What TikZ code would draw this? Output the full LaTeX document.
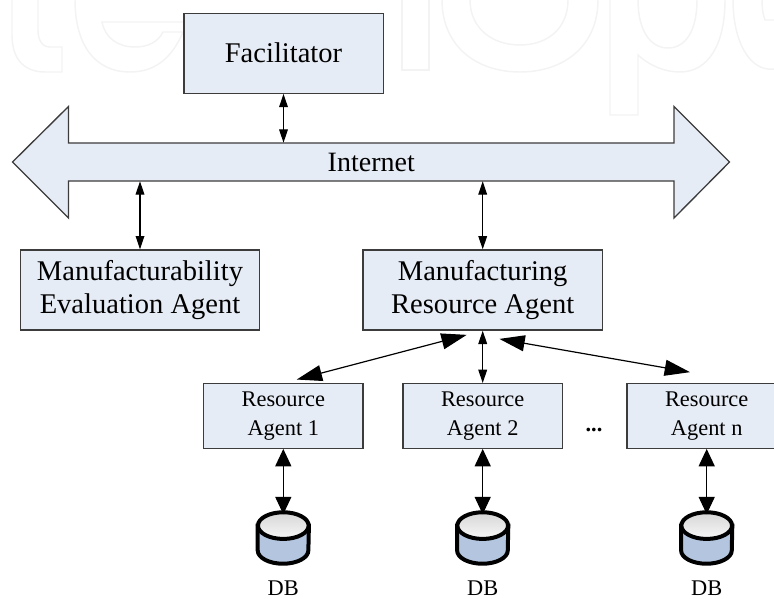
\documentclass[tikz,border=0pt]{standalone}
\usepackage{fontspec}
\setmainfont{Liberation Serif}
\usepackage{tikz}
\usetikzlibrary{arrows.meta}
\definecolor{boxfill}{HTML}{E6ECF5}
\definecolor{boxline}{HTML}{3C3C3C}
\definecolor{markline}{HTML}{F3F3F3}
\definecolor{dbside}{HTML}{B4C6DF}
\tikzset{
  agentbox/.style={draw=boxline,fill=boxfill,line width=1pt,inner sep=0pt,align=center},
  bigbox/.style={agentbox,minimum width=179.5pt,minimum height=60pt,font=\fontsize{21.4}{25}\selectfont},
  smallbox/.style={agentbox,minimum width=119.5pt,minimum height=48.4pt,font=\fontsize{16.8}{21.5}\selectfont},
  thinlink/.style={{Triangle[length=10pt,width=6.5pt]}-{Triangle[length=10pt,width=6.5pt]},line width=0.9pt},
  fatlink/.style={{Triangle[length=13pt,width=12pt]}-{Triangle[length=13pt,width=12pt]},line width=0.9pt},
  slantlink/.style={{Triangle[length=19pt,width=12pt]}-{Triangle[length=19pt,width=12pt]},line width=0.9pt},
  dbspot/.style={inner sep=0pt,minimum width=38pt,minimum height=38.2pt},
  dbwall/.style={line width=3pt,left color=dbside,middle color=boxfill,right color=dbside},
  dbtop/.style={line width=3pt,top color=white!84!black,bottom color=white!97!black},
  dblabel/.style={font=\fontsize{16.8}{20}\selectfont},
  markstroke/.style={draw=markline,line width=1.1pt}
}
\begin{document}
\begin{tikzpicture}[x=0.75pt,y=-0.75pt]
  \useasboundingbox (0,0) rectangle (774,599);

  % faint lettering behind the diagram
  \draw [markstroke] (12,0) -- (12,35) .. controls (12,60) and (25,72) .. (45,72) -- (62,72) -- (62,47) -- (50,47) .. controls (42,47) and (38,40) .. (38,30) -- (38,0);
  \draw [markstroke] (75,0) .. controls (75,45) and (95,72) .. (130,72) .. controls (155,72) and (172,58) .. (183,32) -- (163,32) .. controls (158,42) and (148,47) .. (135,47) .. controls (118,47) and (105,38) .. (102,22) -- (190,22);
  \draw [markstroke] (402,0) -- (402,70) -- (429,70) -- (429,0);
  \draw [markstroke] (442,0) .. controls (442,45) and (475,72) .. (520,72) .. controls (565,72) and (598,45) .. (598,0);
  \draw [markstroke] (470,0) .. controls (470,28) and (492,45) .. (520,45) .. controls (548,45) and (568,28) .. (568,0);
  \draw [markstroke] (610,0) -- (610,115) -- (638,115) -- (638,55) .. controls (650,66) and (665,72) .. (680,72) .. controls (708,72) and (725,45) .. (725,0);
  \draw [markstroke] (638,0) .. controls (638,30) and (650,48) .. (668,48) .. controls (686,48) and (697,30) .. (697,0);
  \draw [markstroke] (733,0) .. controls (733,42) and (750,72) .. (774,69);
  \draw [markstroke] (762,0) .. controls (762,8) and (763,15) .. (765,20) -- (774,20);

  % backbone
  \draw [agentbox] (12.5,162) -- (68.5,106.5) -- (68.5,143) -- (674,143) -- (674,106.5) -- (729.5,162) -- (674,218) -- (674,181) -- (68.5,181) -- (68.5,218) -- cycle;
  \node (inet) [inner sep=0pt,minimum width=454pt,minimum height=28.5pt,font=\fontsize{21}{25}\selectfont] at (371.25,162) {Internet};

  % upper boxes
  \node (fac) [bigbox,minimum width=149.5pt] at (283.5,53.2) {Facilitator};
  \node (mea) [bigbox] at (140,290) {Manufacturability\\Evaluation Agent};
  \node (mra) [bigbox] at (482.7,290) {Manufacturing\\Resource Agent};

  \draw [thinlink] (fac.south) -- (fac.south |- inet.north);
  \draw [thinlink] (mea.north) -- (mea.north |- inet.south);
  \draw [thinlink] (mra.north) -- (mra.north |- inet.south);

  % resource agents with their databases
  \foreach \num / \x / \label in {1/283.3/Agent 1, 2/482.7/Agent 2, n/706.7/Agent n}
  {
    \node (ra\num) [smallbox] at (\x,416) {Resource\\\label};
    \node (db\num) [dbspot] at (\x,538) {};
    \draw [dbwall] ([yshift=-10pt]db\num.north west) -- ([yshift=10pt]db\num.south west) arc [start angle=180,end angle=360,x radius=19pt,y radius=10pt] -- ([yshift=-10pt]db\num.north east) -- cycle;
    \draw [dbtop] ([yshift=-10pt]db\num.north) ellipse [x radius=19pt,y radius=10pt];
    \node (lab\num) [dblabel] at (\x,588) {DB};
    \draw [fatlink,shorten >=-1.5pt] (ra\num.south) -- (db\num.north);
  }
  \node (gap) [font=\fontsize{16.8}{20}\selectfont\bfseries,inner sep=0pt,anchor=base] at (594,431.5) {...};

  \draw [thinlink] (mra.south) -- (ra2.north);
  % slanted links
  \draw [slantlink,shorten <=12.4pt,shorten >=10.4pt] (mra.south) -- (ra1.north);
  \coordinate (mraend) at ([yshift=-4pt]mra.south);
  \coordinate (rnend) at ([yshift=6pt]ran.north);
  \draw [slantlink,shorten <=12.7pt,shorten >=12.7pt] (mraend) -- (rnend);
\end{tikzpicture}
\end{document}
